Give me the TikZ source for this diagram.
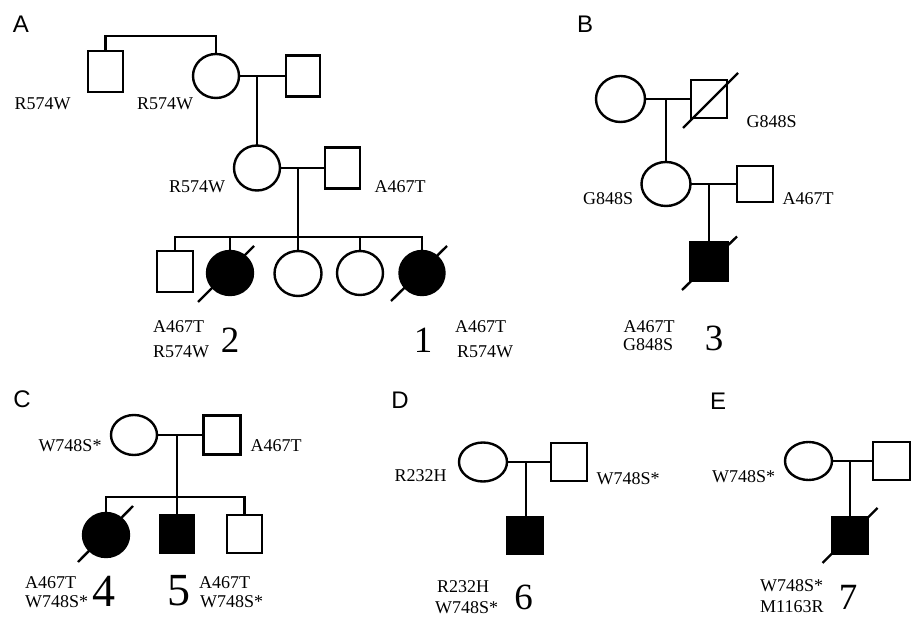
\documentclass[tikz,border=0pt]{standalone}
\usepackage{fontspec}
\setmainfont{Liberation Serif}
\newfontfamily\panelfont{Liberation Sans}
\usetikzlibrary{shapes.geometric}
\tikzset{
  x=1pt, y=-1pt,
  pline/.style={line width=2.4pt},
  sq/.style={draw, line width=2.4pt, rectangle, inner sep=0pt, outer sep=0pt, minimum width=36pt, minimum height=40pt},
  ci/.style={draw, line width=2.4pt, ellipse, inner sep=0pt, outer sep=0pt, minimum width=46pt, minimum height=44pt},
  aff/.style={fill=black},
  lbl/.style={inner sep=0pt, font=\fontsize{18}{20}\selectfont},
  num/.style={inner sep=0pt, font=\fontsize{37}{40}\selectfont},
  bignum/.style={inner sep=0pt, font=\fontsize{46}{50}\selectfont},
  panel/.style={inner sep=0pt, font=\panelfont\fontsize{24}{26}\selectfont},
}
\begin{document}
\begin{tikzpicture}
\useasboundingbox (0,0) rectangle (915,617);

% ---------------- Panel A ----------------
\node[panel] (pA) at (21,24) {A};
\node[sq, minimum width=35pt, minimum height=41pt] (a1) at (105.5,71.5) {};
\node[ci] (a2) at (216,76) {};
\node[sq, minimum width=34pt, minimum height=41pt] (a3) at (303,76) {};
\coordinate (mA1) at (257,76);
\draw[pline] (a1.north) -- ++(0,-15) -| (a2.north);
\draw[pline] (a2) -- (a3);
\node[ci, minimum height=45pt] (a4) at (257,168) {};
\node[sq, minimum width=35pt, minimum height=41pt] (a5) at (342.5,168) {};
\coordinate (mA2) at (298,168);
\draw[pline] (mA1) -- (a4.north);
\draw[pline] (a4) -- (a5);
\coordinate (sibA) at (298,237);
\node[sq, minimum height=41pt] (a6) at (175,271.5) {};
\node[ci, aff] (a7) at (230,273) {};
\node[ci, minimum width=47pt, minimum height=45pt] (a8) at (298,273.5) {};
\node[ci] (a9) at (360,273) {};
\node[ci, aff, minimum width=45pt] (a10) at (422,273) {};
\draw[pline] (mA2) -- (a8.north);
\draw[pline] (a6.north) |- (sibA) -| (a10.north);
\draw[pline] (a7.north) -- (a7.north |- sibA);
\draw[pline] (a9.north) -- (a9.north |- sibA);
\draw[pline] ([shift={(-32,29)}]a7.center) -- ([shift={(24,-27)}]a7.center);
\draw[pline] ([shift={(-31,28)}]a10.center) -- ([shift={(25,-27)}]a10.center);
\node[lbl] (la1) at (42.5,104) {R574W};
\node[lbl] (la2) at (165,104) {R574W};
\node[lbl] (la4) at (197,187) {R574W};
\node[lbl] (la5) at (400,187) {A467T};
\node[lbl, anchor=west] (la7a) at (153,327) {A467T};
\node[lbl, anchor=west] (la7b) at (153,352) {R574W};
\node[num] (n2) at (230,340) {2};
\node[num] (n1) at (423,340) {1};
\node[lbl, anchor=west] (la10a) at (455,327) {A467T};
\node[lbl, anchor=west] (la10b) at (457,352) {R574W};

% ---------------- Panel B ----------------
\node[panel] (pB) at (585,24) {B};
\node[ci, minimum width=49pt, minimum height=46pt] (b1) at (620.5,99) {};
\node[sq, minimum height=38pt] (b2) at (709,99) {};
\coordinate (mB1) at (666,99);
\draw[pline] (b1) -- (b2);
\draw[pline] ([shift={(-26,29)}]b2.center) -- ([shift={(29,-26)}]b2.center);
\node[ci, minimum width=49pt, minimum height=44pt] (b3) at (666,184) {};
\node[sq, minimum height=36pt] (b4) at (755,184) {};
\coordinate (mB2) at (709,184);
\draw[pline] (mB1) -- (b3.north);
\draw[pline] (b3) -- (b4);
\node[sq, aff, minimum width=37pt, minimum height=39pt] (b5) at (709,261.5) {};
\draw[pline] (mB2) -- (b5.north);
\draw[pline] ([shift={(-27,28.5)}]b5.center) -- ([shift={(28,-25)}]b5.center);
\node[lbl] (lb2) at (771.5,122) {G848S};
\node[lbl] (lb3) at (608,199) {G848S};
\node[lbl] (lb4) at (808,199) {A467T};
\node[lbl] (lb5a) at (649,327) {A467T};
\node[lbl] (lb5b) at (648,345) {G848S};
\node[num] (n3) at (714,338) {3};

% ---------------- Panel C ----------------
\node[panel] (pC) at (22,399) {C};
\node[ci, minimum height=40pt] (c1) at (134,435) {};
\node[sq, minimum width=37pt, minimum height=39pt] (c2) at (222,435) {};
\coordinate (mC) at (177,435);
\draw[pline] (c1) -- (c2);
\coordinate (sibC) at (177,497);
\node[ci, aff] (c3) at (106,535) {};
\node[sq, aff, minimum width=34pt, minimum height=38pt] (c4) at (177,534) {};
\node[sq, minimum width=35pt, minimum height=38pt] (c5) at (244.5,534) {};
\draw[pline] (mC) -- (c4.north);
\draw[pline] (c3.north) |- (sibC) -| (c5.north);
\draw[pline] ([shift={(-28,27)}]c3.center) -- ([shift={(27,-29)}]c3.center);
\node[lbl] (lc1) at (70,446) {W748S*};
\node[lbl] (lc2) at (276,446) {A467T};
\node[lbl, anchor=west] (lc3a) at (25,583) {A467T};
\node[lbl, anchor=west] (lc3b) at (25,602) {W748S*};
\node[bignum] (n4) at (104,591) {4};
\node[bignum] (n5) at (179,591) {5};
\node[lbl, anchor=west] (lc4a) at (199,583) {A467T};
\node[lbl, anchor=west] (lc4b) at (200,602) {W748S*};

% ---------------- Panel D ----------------
\node[panel] (pD) at (400,400) {D};
\node[ci, minimum width=48pt, minimum height=39pt] (d1) at (483,462) {};
\node[sq, minimum height=38pt] (d2) at (569,462) {};
\coordinate (mD) at (526,462);
\draw[pline] (d1) -- (d2);
\node[sq, aff, minimum height=37pt] (d3) at (525,535.5) {};
\draw[pline] (mD) -- (mD |- d3.north);
\node[lbl] (ld1) at (420.5,476) {R232H};
\node[lbl] (ld2) at (628,479) {W748S*};
\node[lbl, anchor=west] (ld3a) at (437,587) {R232H};
\node[lbl, anchor=west] (ld3b) at (435,608) {W748S*};
\node[num] (n6) at (523.5,597) {6};

% ---------------- Panel E ----------------
\node[panel] (pE) at (718,401) {E};
\node[ci, minimum width=47pt, minimum height=38pt] (e1) at (808.5,461) {};
\node[sq, minimum width=37pt, minimum height=38pt] (e2) at (891.5,461) {};
\coordinate (mE) at (850,461);
\draw[pline] (e1) -- (e2);
\node[sq, aff, minimum width=35pt, minimum height=37pt] (e3) at (850,535.5) {};
\draw[pline] (mE) -- (e3.north);
\draw[pline] ([shift={(-27.5,27.5)}]e3.center) -- ([shift={(27.5,-27.5)}]e3.center);
\node[lbl] (le1) at (743.5,477) {W748S*};
\node[lbl, anchor=west] (le3a) at (760,586) {W748S*};
\node[lbl, anchor=west] (le3b) at (760,607) {M1163R};
\node[num] (n7) at (848,597) {7};
\end{tikzpicture}
\end{document}
